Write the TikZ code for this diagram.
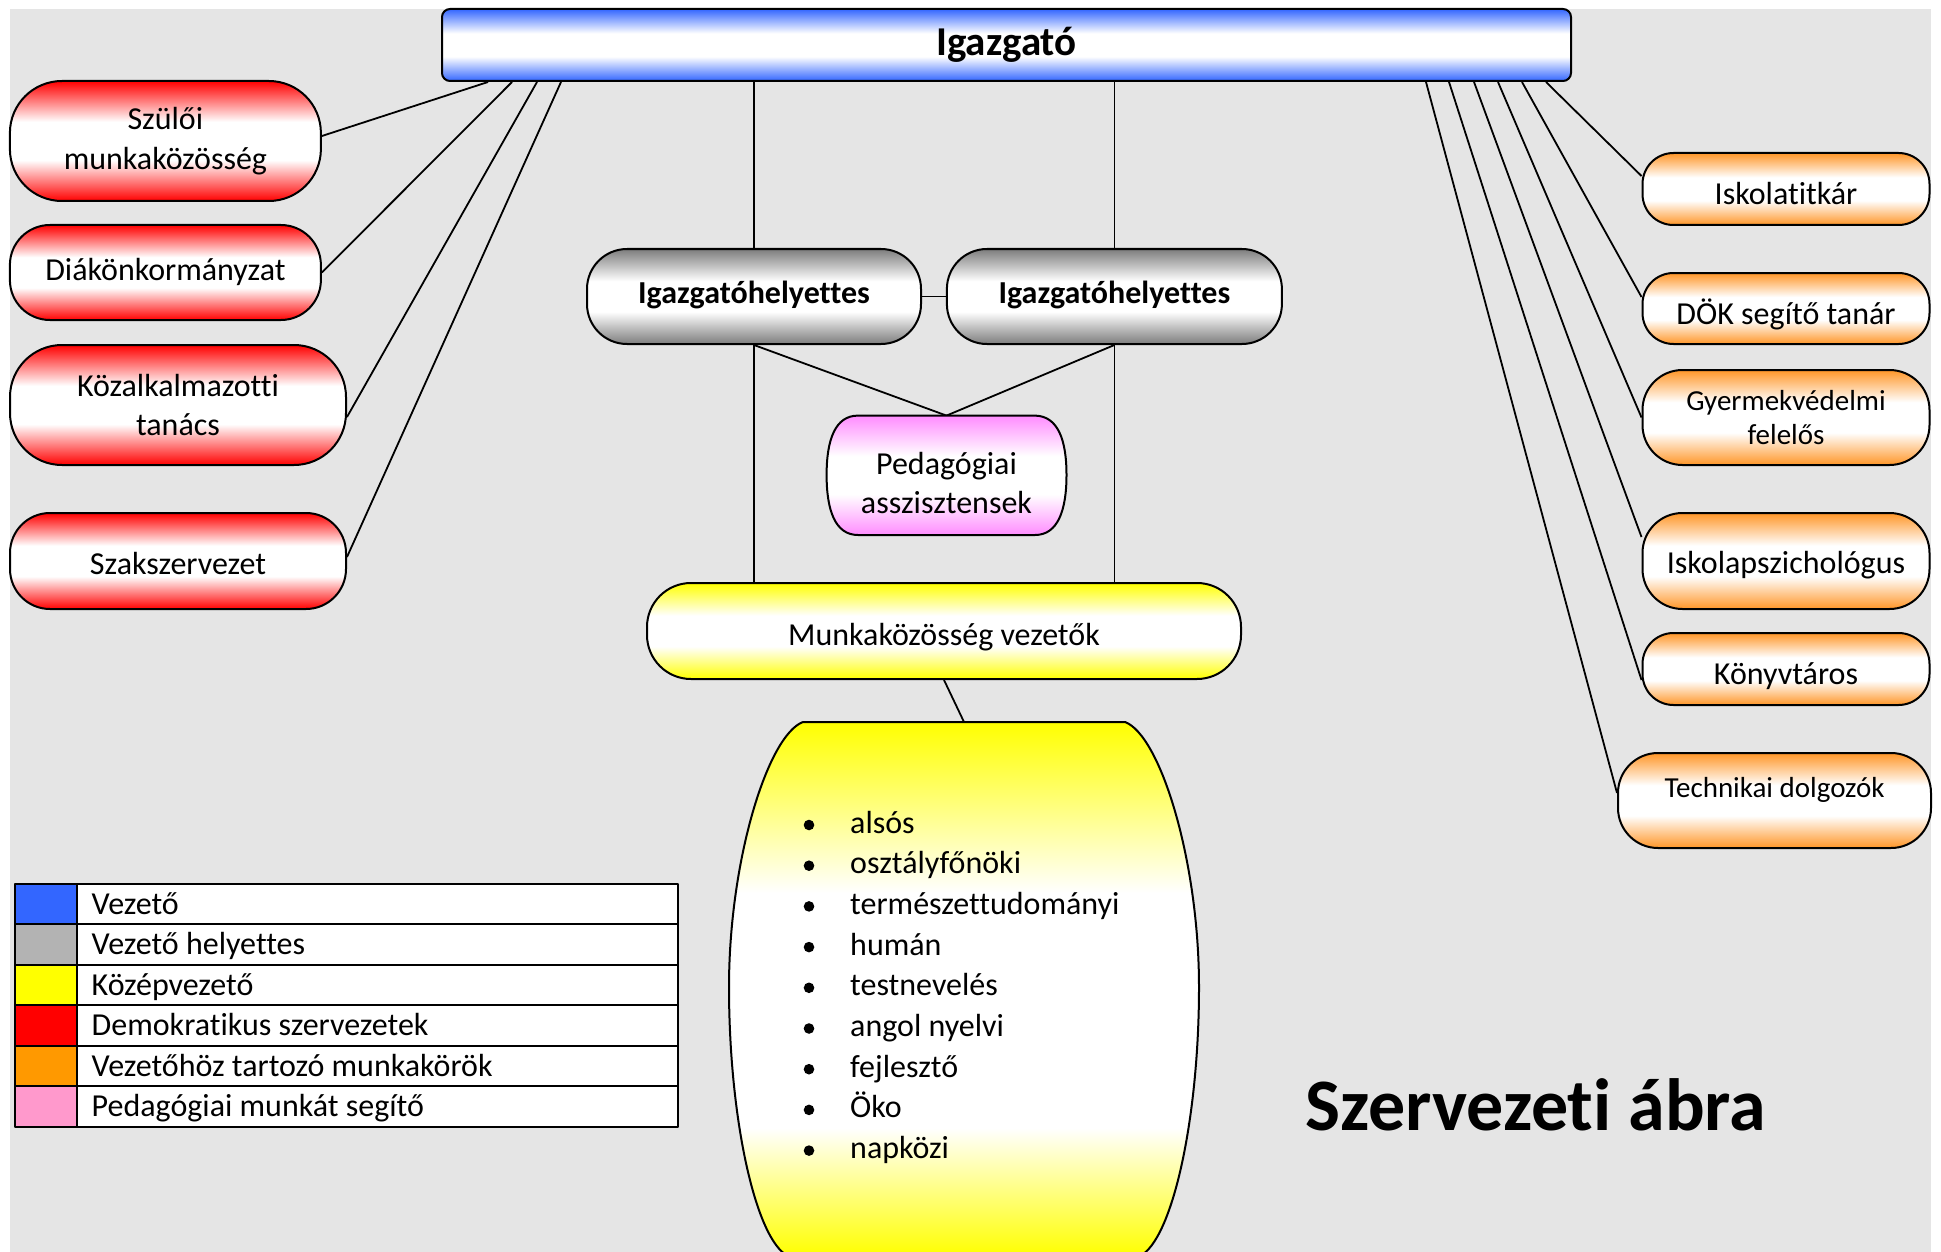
\documentclass[tikz,border=0pt]{standalone}
\usepackage{fontspec}
\setmainfont{Carlito}[Ligatures={NoCommon,NoContextual,NoRequired},RawFeature={-liga;-clig;-calt}]
\definecolor{bgc}{RGB}{229,229,229}
\definecolor{cblue}{RGB}{51,102,255}
\definecolor{cgray}{RGB}{125,125,125}
\definecolor{lgray}{RGB}{179,179,179}
\definecolor{cred}{RGB}{255,0,0}
\definecolor{corange}{RGB}{255,150,40}
\definecolor{lorange}{RGB}{255,153,0}
\definecolor{cyellow}{RGB}{255,255,0}
\definecolor{cpink}{RGB}{255,140,255}
\definecolor{lpink}{RGB}{255,153,204}
\pgfdeclareverticalshading{bluesh}{100bp}{color(0bp)=(cblue); color(25bp)=(cblue); color(42bp)=(white); color(58bp)=(white); color(75bp)=(cblue); color(100bp)=(cblue)}
\pgfdeclareverticalshading{graysh}{100bp}{color(0bp)=(cgray); color(25bp)=(cgray); color(42bp)=(white); color(58bp)=(white); color(75bp)=(cgray); color(100bp)=(cgray)}
\pgfdeclareverticalshading{redsh}{100bp}{color(0bp)=(cred); color(25bp)=(cred); color(42bp)=(white); color(58bp)=(white); color(75bp)=(cred); color(100bp)=(cred)}
\pgfdeclareverticalshading{orangesh}{100bp}{color(0bp)=(corange); color(25bp)=(corange); color(42bp)=(white); color(58bp)=(white); color(75bp)=(corange); color(100bp)=(corange)}
\pgfdeclareverticalshading{yellowsh}{100bp}{color(0bp)=(cyellow); color(25bp)=(cyellow); color(42bp)=(white); color(58bp)=(white); color(75bp)=(cyellow); color(100bp)=(cyellow)}
\pgfdeclareverticalshading{yellowbig}{100bp}{color(0bp)=(cyellow); color(25bp)=(cyellow); color(37bp)=(white); color(59bp)=(white); color(75bp)=(cyellow); color(100bp)=(cyellow)}
\pgfdeclareverticalshading{pinksh}{100bp}{color(0bp)=(cpink); color(25bp)=(cpink); color(42bp)=(white); color(58bp)=(white); color(75bp)=(cpink); color(100bp)=(cpink)}
\pgfdeclarelayer{bglayer}
\pgfdeclarelayer{edgelayer}
\pgfsetlayers{bglayer,edgelayer,main}
\newcommand\mytxt{\fontsize{32}{39.5}\selectfont}
\newcommand\mysmall{\fontsize{29}{34}\selectfont}
\tikzset{
  box/.style={draw=black, line width=2pt, rectangle, inner sep=0pt, align=center, font=\mytxt},
  redbox/.style={box, shading=redsh},
  orbox/.style={box, shading=orangesh},
  graybox/.style={box, shading=graysh, font=\mytxt\bfseries},
  conn/.style={draw=black, line width=1.8pt},
  gridline/.style={draw=black, line width=2pt},
  plain/.style={inner sep=0pt, font=\mytxt}
}
\begin{document}
\begin{tikzpicture}[x=1pt,y=-1pt,line join=round]
\useasboundingbox (0,0) rectangle (1941,1252);
\begin{pgfonlayer}{bglayer}
\fill[bgc] (10,9) rectangle (1931,1252);
\end{pgfonlayer}

% top
\node[box, shading=bluesh, rounded corners=8pt, minimum width=1129pt, minimum height=72pt, font=\fontsize{41}{49}\selectfont\bfseries] (ig) at (1006.5,45) {Igazgató};

% left (red)
\node[redbox, rounded corners=52pt, minimum width=311pt, minimum height=120pt] (szul) at (165.4,141) {Szülői\\munkaközösség};
\node[redbox, rounded corners=40pt, minimum width=311pt, minimum height=95pt, text height=36pt, text depth=19.6pt] (diak) at (165.4,272.5) {Diákönkormányzat};
\node[redbox, rounded corners=52pt, minimum width=336pt, minimum height=120pt] (kozalk) at (178,405) {Közalkalmazotti\\tanács};
\node[redbox, rounded corners=40pt, minimum width=336pt, minimum height=96pt, text height=36pt, text depth=9.2pt] (szak) at (178,561) {Szakszervezet};

% right (orange)
\node[orbox, rounded corners=31pt, minimum width=287pt, minimum height=72pt, text height=36pt, text depth=4.6pt] (iskt) at (1786,189) {Iskolatitkár};
\node[orbox, rounded corners=31pt, minimum width=287pt, minimum height=71pt, text height=36pt, text depth=5pt] (dok) at (1786,308.5) {DÖK segítő tanár};
\node[orbox, rounded corners=40pt, minimum width=287pt, minimum height=95pt, font=\mysmall] (gyer) at (1786,417.5) {Gyermekvédelmi\\felelős};
\node[orbox, rounded corners=40pt, minimum width=287pt, minimum height=96pt, text height=36pt, text depth=10.6pt] (pszi) at (1786,561) {Iskolapszichológus};
\node[orbox, rounded corners=31pt, minimum width=287pt, minimum height=72pt, text height=36pt, text depth=6pt] (konyv) at (1786,669) {Könyvtáros};
\node[orbox, rounded corners=40pt, minimum width=313pt, minimum height=95pt, font=\mysmall, text height=20pt, text depth=27pt] (tech) at (1774.5,800.5) {Technikai dolgozók};

% middle
\node[graybox, rounded corners=40pt, minimum width=334pt, minimum height=95pt, text height=36pt, text depth=22.6pt] (ih1) at (754,296.5) {Igazgatóhelyettes};
\node[graybox, rounded corners=40pt, minimum width=335pt, minimum height=95pt, text height=36pt, text depth=22.6pt] (ih2) at (1114.4,296.5) {Igazgatóhelyettes};

\path[draw=black, line width=2pt, shading=pinksh]
  (858,415.6) -- (1035,415.6) .. controls (1058,416) and (1066.5,440) .. (1066.5,475)
  .. controls (1066.5,510) and (1058,535) .. (1035,535) -- (858,535)
  .. controls (835,535) and (826.6,510) .. (826.6,475)
  .. controls (826.6,440) and (835,415.6) .. (858,415.6) -- cycle;
\coordinate (pedtop) at (946.5,415.6);
\node[plain, align=center] (ped) at (946.5,483) {Pedagógiai\\asszisztensek};

\node[box, shading=yellowsh, rounded corners=44pt, minimum width=594pt, minimum height=96pt, text height=36pt, text depth=8pt] (munka) at (944,631) {Munkaközösség vezetők};

\path[draw=black, line width=2pt, shading=yellowbig]
  (803,722) -- (1125,722) .. controls (1160,735) and (1199,860) .. (1199,987)
  .. controls (1199,1120) and (1172,1240) .. (1140,1256) -- (788,1256)
  .. controls (756,1240) and (729,1120) .. (729,987)
  .. controls (729,860) and (768,735) .. (803,722) -- cycle;
\coordinate (list) at (964,722);

\foreach \t [count=\i from 0] in {alsós, osztályfőnöki, természettudományi, humán, testnevelés, angol nyelvi, fejlesztő, Öko, napközi} {
  \fill[black] (809,{825+40.7*\i}) circle (5.3pt);
  \node[plain, anchor=base west] (li\i) at (850,{833+40.7*\i}) {\t};
}

% title
\node[inner sep=0pt, anchor=base west, font=\fontsize{74}{89}\selectfont\bfseries] (title) at (1305,1130) {Szervezeti ábra};

% legend
\fill[white] (76.8,884) rectangle (677.6,1126.7);
\foreach \c/\t [count=\i from 0] in {cblue/Vezető, lgray/Vezető helyettes, cyellow/Középvezető, cred/Demokratikus szervezetek, lorange/Vezetőhöz tartozó munkakörök, lpink/Pedagógiai munkát segítő} {
  \fill[\c] (14.7,{884+40.45*\i}) rectangle (76.8,{884+40.45*(\i+1)});
  \node[plain, anchor=base west] (leg\i) at (91.5,{884+40.45*\i+30.2}) {\t};
}
\foreach \i in {1,...,5} {
  \draw[gridline] (14.7,{884+40.45*\i}) -- (677.6,{884+40.45*\i});
}
\draw[gridline] (76.8,884) -- (76.8,1126.7);
\draw[gridline] (14.7,884) rectangle (677.6,1126.7);

% connectors
\begin{pgfonlayer}{edgelayer}
\draw[conn] ([xshift=47pt]ig.south west) -- ([yshift=5pt]szul.east);
\draw[conn] ([xshift=71pt]ig.south west) -- (diak.east);
\draw[conn] ([xshift=96pt]ig.south west) -- ([yshift=-12pt]kozalk.east);
\draw[conn] ([xshift=120pt]ig.south west) -- ([yshift=4pt]szak.east);
\draw[conn] ([xshift=1105pt]ig.south west) -- ([yshift=13pt]iskt.west);
\draw[conn] ([xshift=1081pt]ig.south west) -- ([yshift=11.5pt]dok.west);
\draw[conn] ([xshift=1057pt]ig.south west) -- (gyer.west);
\draw[conn] ([xshift=1033pt]ig.south west) -- ([yshift=24pt]pszi.west);
\draw[conn] ([xshift=1008pt]ig.south west) -- ([yshift=-11pt]konyv.west);
\draw[conn] ([xshift=985pt]ig.south west) -- ([yshift=7.5pt]tech.west);
\draw[conn] (ih1.north |- ig.south) -- (ih1.north);
\draw[conn] (ih2.north |- ig.south) -- (ih2.north);
\draw[conn] (ih1.east) -- (ih2.west);
\draw[conn] (ih1.south) -- (pedtop);
\draw[conn] (ih2.south) -- (pedtop);
\draw[conn] (ih1.south) -- (ih1.south |- munka.north);
\draw[conn] (ih2.south) -- (ih2.south |- munka.north);
\draw[conn] (munka.south) -- (list);
\end{pgfonlayer}
\end{tikzpicture}
\end{document}
